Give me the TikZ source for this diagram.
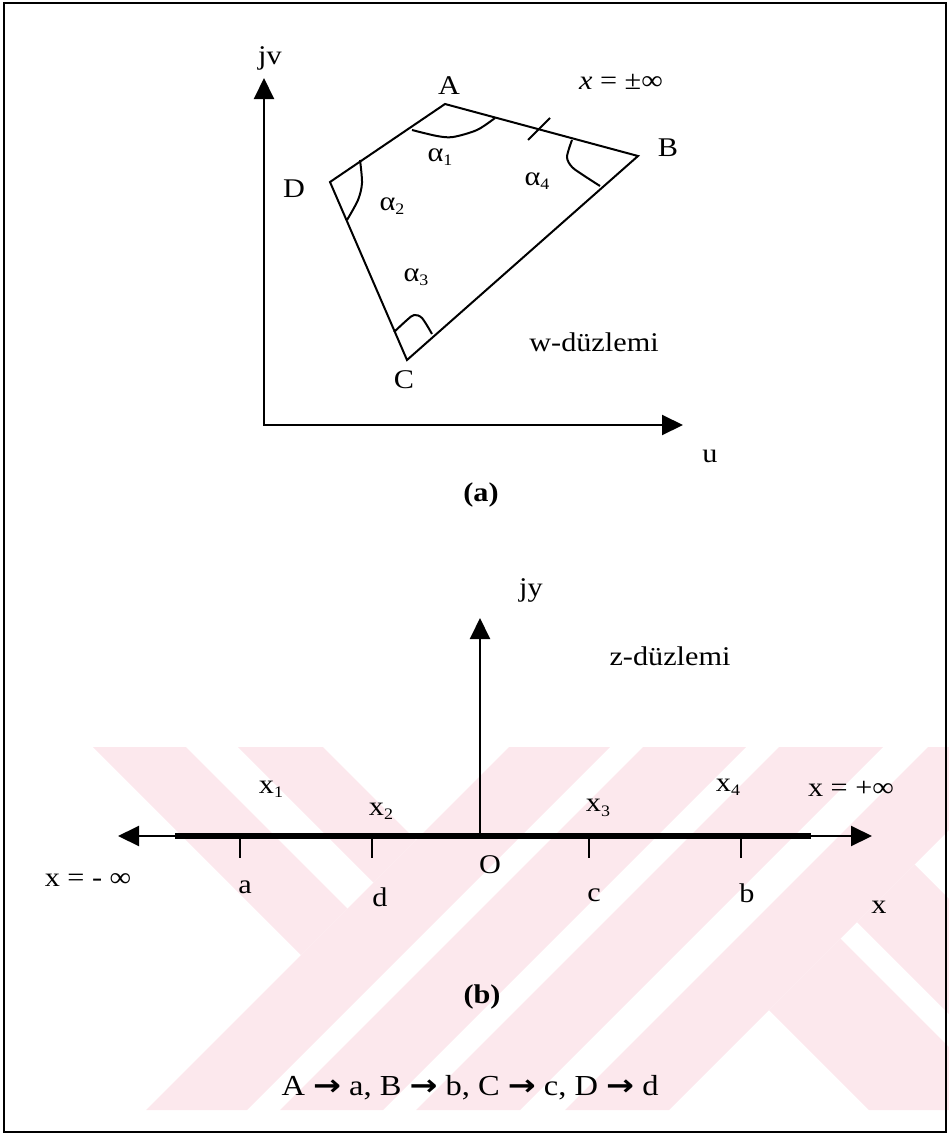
\documentclass[tikz,border=0pt]{standalone}
\usepackage{fontspec}
\setmainfont{Liberation Serif}[FakeStretch=1.12]
\newfontfamily\arrowfont{DejaVu Sans}[FakeStretch=1.15]
\usetikzlibrary{arrows.meta}
\definecolor{wm}{RGB}{252,232,237}
\newcommand{\lsub}[1]{\raisebox{-0.35ex}{\fontsize{16}{16}\selectfont #1}}
\newcommand{\bigarr}{{\arrowfont\bfseries →}}
\begin{document}
\begin{tikzpicture}[x=1pt,y=-1pt,
  lbl/.style={inner sep=0pt, font=\fontsize{27}{30}\selectfont},
  bl/.style={inner sep=0pt, font=\fontsize{27}{30}\selectfont\bfseries},
  ln/.style={line width=2pt},
  tri/.tip={Triangle[length=21pt,width=20pt]},
  wmark/.style={fill=wm, draw=none}]
\useasboundingbox (0,0) rectangle (949,1135);

% ---- watermark ----
\begin{scope}
\clip (93,747) rectangle (949,1110);
\foreach \a/\b in {1256/1357,1390/1493,1526/1630,1675/1779}
  \fill[wmark] ({\a-747},747) -- ({\b-747},747) -- ({\b-1110},1110) -- ({\a-1110},1110) -- cycle;
\fill[wmark] (93,747) -- (186,747) -- (347.5,908.5) -- (301,955) -- cycle;
\fill[wmark] (238,747) -- (323,747) -- (416,840) -- (373.5,882.5) -- cycle;
\fill[wmark] (769,1010) -- (840.5,938.5) -- (1012,1110) -- (869,1110) -- cycle;
\fill[wmark] (857,922) -- (914.5,864.5) -- (1160,1110) -- (1045,1110) -- cycle;
\end{scope}

% ---- frame ----
\draw[line width=2pt] (4,3) rectangle (946,1132);

% ---- part (a) ----
\coordinate (O1) at (264,425);
\coordinate (jvtip) at (264,78);
\coordinate (utip) at (683,425);
\draw[ln,tri-tri] (jvtip) -- (O1) -- (utip);
\node[lbl] (ljv) at (270,58) {jv};
\node[lbl] (lu) at (710,456) {u};

\coordinate (A) at (445,104);
\coordinate (B) at (638,156);
\coordinate (C) at (407,360);
\coordinate (D) at (330,182);
\draw[ln,line join=miter] (A) -- (B) -- (C) -- (D) -- cycle;

% angle arcs
\draw[ln] plot[smooth] coordinates {(412,130) (437,136) (453,137) (477,130) (495,118)};
\draw[ln] plot[smooth] coordinates {(360,160) (362,183) (358,200) (347,220)};
\draw[ln] plot[smooth] coordinates {(394,332) (407,320) (414,315) (422,318) (432,334)};
\draw[ln] plot[smooth] coordinates {(572,140) (567,157) (572,167) (583,175) (600,186)};
% tick on AB
\draw[ln] (528,140) -- (550,118);

\node[lbl] (lA) at (449,86) {A};
\node[lbl] (lB) at (668,148) {B};
\node[lbl] (lC) at (404,380) {C};
\node[lbl] (lD) at (294,189) {D};
\node[lbl] (linf) at (621,82) {\textit{x} = ±∞};
\node[lbl] (a1) at (440,157) {α\lsub{1}};
\node[lbl] (a2) at (392,206) {α\lsub{2}};
\node[lbl] (a3) at (416,277) {α\lsub{3}};
\node[lbl] (a4) at (537,181) {α\lsub{4}};
\node[lbl] (wpl) at (594,342) {w-düzlemi};
\node[bl] (capa) at (481,495) {(a)};

% ---- part (b) ----
\coordinate (O2) at (480,836);
\coordinate (jytip) at (480,618);
\draw[ln,-tri] (O2) -- (jytip);
\coordinate (xl) at (118,836);
\coordinate (xr) at (872,836);
\draw[ln,tri-tri] (xl) -- (xr);
\coordinate (tl) at (175,836);
\coordinate (tr) at (811,836);
\draw[line width=5.5pt] (tl) -- (tr);
\foreach \t in {240,372,589,741}
  \draw[ln] (\t,836) -- (\t,858);

\node[lbl] (ljy) at (531,590) {jy};
\node[lbl] (zpl) at (670,656) {z-düzlemi};
\node[lbl] (lx1) at (271,789) {x\lsub{1}};
\node[lbl] (lx2) at (381,811) {x\lsub{2}};
\node[lbl] (lx3) at (598,808) {x\lsub{3}};
\node[lbl] (lx4) at (728,787) {x\lsub{4}};
\node[lbl] (lpinf) at (851,789) {x = +∞};
\node[lbl] (lminf) at (88,880) {x = - ∞};
\node[lbl] (la) at (245,887) {a};
\node[lbl] (ld) at (380,897) {d};
\node[lbl] (lO) at (490,865) {O};
\node[lbl] (lc) at (594,895) {c};
\node[lbl] (lb) at (747,893) {b};
\node[lbl] (lxx) at (879,907) {x};
\node[bl] (capb) at (482,997) {(b)};
\node[inner sep=0pt, font=\fontsize{29}{32}\selectfont] (map) at (470,1088) {A \bigarr{} a, B \bigarr{} b, C \bigarr{} c, D \bigarr{} d};
\end{tikzpicture}
\end{document}
